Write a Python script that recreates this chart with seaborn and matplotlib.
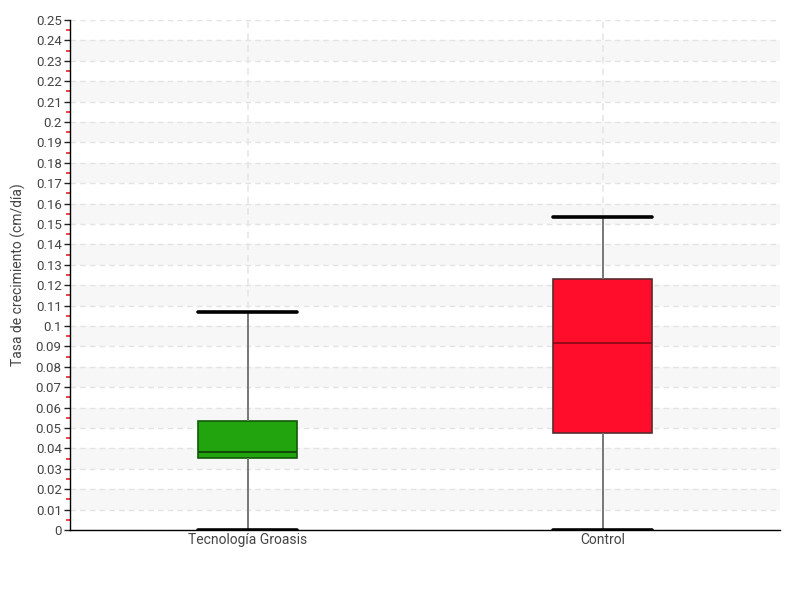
import numpy as np
import pandas as pd
import matplotlib
matplotlib.use("Agg")
import matplotlib.pyplot as plt
import seaborn as sns

# five-number summaries: min, q1, median, q3, max
groups = ["Tecnología Groasis", "Control"]
groasis_vals = [0.0, 0.0353, 0.0382, 0.0534, 0.1069]
control_vals = [0.0, 0.0475, 0.0917, 0.1230, 0.1534]
box_colors = ["#22a40e", "#ff0d2a"]
edge_colors = ["#125a08", "#5a2a2e"]
median_colors = ["#0f4a06", "#7a0a14"]
y_ticks = [round(i * 0.01, 2) for i in range(26)]
y_labels = [f"{v:g}" for v in y_ticks]

sns.set_theme(style="white")
plt.rcParams["font.family"] = ["Roboto", "DejaVu Sans"]

df = pd.DataFrame({
    "grupo": [groups[0]] * len(groasis_vals) + [groups[1]] * len(control_vals),
    "tasa": groasis_vals + control_vals,
})

fig = plt.figure(figsize=(8, 6), dpi=100)
ax = fig.add_axes([0.0875, 0.1167, 0.8875, 0.85])

# alternating light bands
for lo in np.arange(0.01, 0.25, 0.02):
    ax.axhspan(lo, lo + 0.01, color="#f7f7f7", zorder=0, lw=0)
for v in y_ticks:
    ax.axhline(v, color="#e3e3e3", lw=1, ls=(0, (4, 3)), zorder=0.5)
for i in range(len(groups)):
    ax.axvline(i, color="#e6e6e6", lw=1.2, ls=(0, (4, 3)), zorder=0.5)

sns.boxplot(data=df, x="grupo", y="tasa", hue="grupo", palette=box_colors,
            order=groups, hue_order=groups, legend=False, saturation=1,
            whis=(0, 100), width=0.28, linewidth=1.2, ax=ax,
            whiskerprops=dict(color="#777777", linewidth=1.4),
            capprops=dict(color="black", linewidth=2.6),
            boxprops=dict(zorder=2))

for i, cont in enumerate(ax.containers):
    for box in cont.boxes:
        box.set_facecolor(box_colors[i])
        box.set_edgecolor(edge_colors[i])
        box.set_alpha(None)
    for med in cont.medians:
        med.set_color(median_colors[i])
        med.set_linewidth(1.4 if i == 0 else 1.1)
    for cap in cont.caps:
        cap.set_xdata([i - 0.14, i + 0.14])
        cap.set_color("black")
        cap.set_linewidth(2.6)
    for wh in cont.whiskers:
        wh.set_color("#777777")

ax.set_xlim(-0.5, 1.5)
ax.set_ylim(0, 0.25)
ax.set_yticks(y_ticks)
ax.set_yticklabels(y_labels)
ax.set_yticks([v + 0.005 for v in y_ticks[:-1]], minor=True)
ax.tick_params(axis="y", which="major", left=True, length=4, width=1,
               color="#222222", labelsize=9.5, labelcolor="#444444", pad=2)
ax.tick_params(axis="y", which="minor", left=True, length=3, width=1.3,
               color="#e83030")
ax.tick_params(axis="x", bottom=False, length=0, labelsize=10,
               labelcolor="#444444", pad=2)

ax.set_xlabel("")
ax.set_ylabel("Tasa de crecimiento (cm/día)", fontsize=10, color="#444444")
ax.yaxis.set_label_coords(-0.062, 0.5)

for s in ["top", "right"]:
    ax.spines[s].set_visible(False)
for s in ["left", "bottom"]:
    ax.spines[s].set_color("black")
    ax.spines[s].set_linewidth(1)

fig.savefig("out.png", dpi=100)
